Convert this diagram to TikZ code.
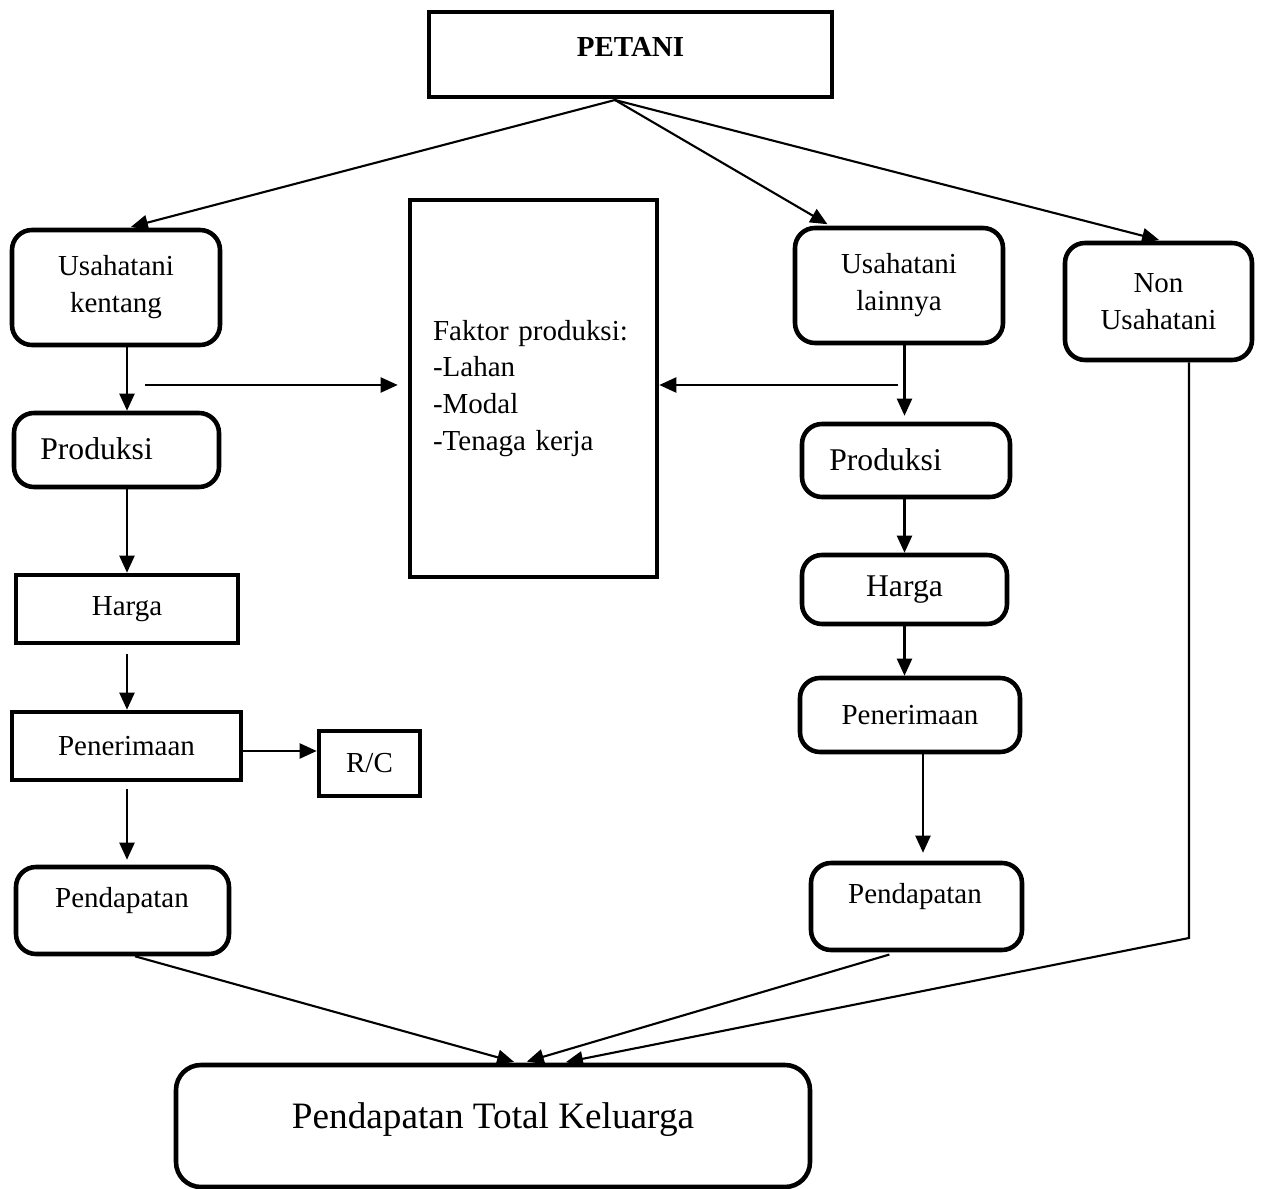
\documentclass[tikz,border=0pt]{standalone}
\usepackage{fontspec}
\setmainfont{Liberation Serif}
\usetikzlibrary{positioning, arrows.meta}
\newcommand{\pxu}{0.02cm}
\tikzstyle{txt}=[inner sep=0pt, font=\fontsize{16.5}{21}\selectfont]
\tikzstyle{bigtxt}=[inner sep=0pt, font=\fontsize{18}{22}\selectfont]
\tikzstyle{sqbox}=[txt, rectangle, draw=black, line width=2.6pt, align=center]
\tikzstyle{rndbox}=[sqbox, rounded corners=0.4cm]
\tikzstyle{link}=[line width=1.2pt, -{Triangle[length=0.34cm, width=0.3cm]}]
\tikzset{boxsize/.style 2 args={minimum width=#1*\pxu, minimum height=#2*\pxu}}

\begin{document}
\begin{tikzpicture}[x=\pxu, y=-\pxu]
            %farm household: two farm branches, off-farm work, all into total income
            \useasboundingbox (0,0) rectangle (1262,1189);
            \node[sqbox, boxsize={403}{85}](petani) at (630.5,54.5){};
            \node[txt, font=\fontsize{16.5}{21}\selectfont\bfseries](petanit) at (630.5,47){PETANI};
            \coordinate (fork) at (615,100);

            % left branch
            \node[rndbox, boxsize={208}{115}](ukent) at (116,287.5){Usahatani\\kentang};
            \node[rndbox, boxsize={205}{74}](prodL) at (116.5,450){};
            \node[bigtxt, anchor=west](prodLt) at (40,449){Produksi};
            \node[sqbox, boxsize={222}{68}](hargaL) at (127,609){Harga};
            \node[sqbox, boxsize={229}{68}](terimaL) at (126.5,746){Penerimaan};
            \node[sqbox, boxsize={101}{65}](rc) at (369.5,763.5){R/C};
            \node[rndbox, boxsize={213}{87}](pendL) at (122.5,910.5){};
            \node[txt](pendLt) at (122,901){Pendapatan};

            % factors of production
            \node[sqbox, boxsize={247}{377}, text width=4.02cm, align=left](faktor) at (533.5,388.5){Faktor produksi:\\-Lahan\\-Modal\\-Tenaga kerja};

            % right branch
            \node[rndbox, boxsize={208}{115}](ulain) at (899,285.5){Usahatani\\lainnya};
            \node[rndbox, boxsize={208}{73}](prodR) at (906,460.5){};
            \node[bigtxt, anchor=west](prodRt) at (829,460){Produksi};
            \node[rndbox, boxsize={205}{69}, font=\fontsize{18}{22}\selectfont](hargaR) at (904.5,589.5){Harga};
            \node[rndbox, boxsize={220}{74}](terimaR) at (910,715){Penerimaan};
            \node[rndbox, boxsize={211}{87}](pendR) at (916.5,906.5){};
            \node[txt](pendRt) at (915,897){Pendapatan};
            \node[rndbox, boxsize={187}{117}](non) at (1158.5,301.5){Non\\Usahatani};

            % total
            \node[rndbox, boxsize={634}{122}, rounded corners=0.5cm](total) at (493,1126){};
            \node[txt, font=\fontsize{21.2}{26}\selectfont](totalt) at (493,1120){Pendapatan Total Keluarga};

            \foreach \b/\s in {ukent/0.24cm, ulain/-1.38cm, non/0.07cm}{
                \draw[link, shorten >=0.06cm] (fork) -- ([xshift=\s]\b.north);
            }
            \foreach \a/\b/\s/\e in {ukent/prodL/0cm/0cm, prodL/hargaL/0cm/0cm, hargaL/terimaL/0.18cm/0cm, terimaL/pendL/0.14cm/0.1cm}{
                \draw[link, shorten <=\s, shorten >=\e] (\a.south -| hargaL) -- (\b.north -| hargaL);
            }
            \foreach \a/\b/\e in {ulain/prodR/0.12cm, prodR/hargaR/0cm, hargaR/terimaR/0cm}{
                \draw[link, shorten >=\e] (\a.south -| hargaR) -- (\b.north -| hargaR);
            }
            \draw[link, shorten >=0.16cm] ([xshift=0.26cm]terimaR.south) -- ([xshift=0.26cm]terimaR.south |- pendR.north);
            \draw[link] ([yshift=-0.1cm]terimaL.east) -- ([yshift=-0.1cm]terimaL.east -| rc.west);

            \coordinate (kentL) at (145,385);
            \coordinate (lainR) at (898,385);
            \draw[link, shorten >=0.2cm] (kentL) -- (kentL -| faktor.west);
            \draw[link] (lainR) -- (lainR -| faktor.east);

            \coordinate (nonbend) at (1189,938);
            \draw[link, shorten >=0.06cm] ([xshift=0.25cm]pendL.south) -- ([xshift=0.48cm]total.north);
            \draw[link, shorten <=0.16cm, shorten >=0.08cm] ([xshift=-0.39cm]pendR.south) -- ([xshift=0.6cm]total.north);
            \draw[link, shorten >=0.06cm] ([xshift=0.61cm]non.south) -- (nonbend) -- ([xshift=1.4cm]total.north);
        \end{tikzpicture}
\end{document}
